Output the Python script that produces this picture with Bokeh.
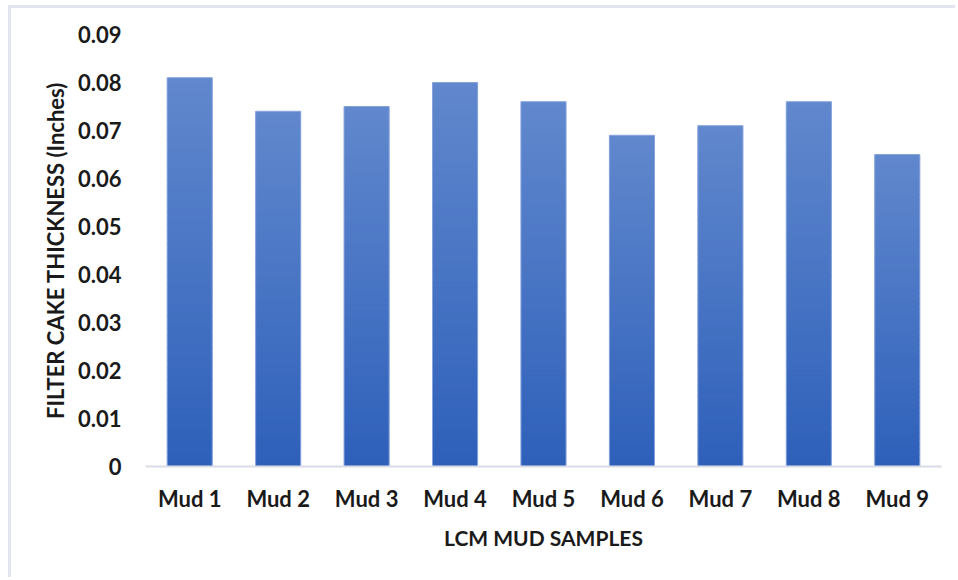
import numpy as np
from bokeh.plotting import figure
from bokeh.models import ColumnDataSource, FixedTicker, CustomJSTickFormatter
from bokeh.embed import file_html
from bokeh.resources import INLINE

categories = ["Mud 1", "Mud 2", "Mud 3", "Mud 4", "Mud 5", "Mud 6", "Mud 7", "Mud 8", "Mud 9"]
thickness = [0.081, 0.074, 0.075, 0.080, 0.076, 0.069, 0.071, 0.076, 0.065]
y_ticks = [0, 0.01, 0.02, 0.03, 0.04, 0.05, 0.06, 0.07, 0.08, 0.09]

FONT = "Lato"
TXT = "#1a1a1a"

p = figure(x_range=categories, y_range=(0, 0.09), width=947, height=572,
           output_backend="svg", toolbar_location=None,
           min_border_left=134, min_border_right=17, min_border_top=26, min_border_bottom=114)
p.margin = (5, 0, 0, 8)
p.styles = {"border-top": "3px solid #e2e5ee", "border-left": "3px solid #e2e5ee"}
p.outline_line_color = None
p.xgrid.grid_line_color = None
p.ygrid.grid_line_color = None

# gradient bars: each bar split into thin slices, light at top, dark at bottom
top_c = np.array([0x61, 0x88, 0xcd])
bot_c = np.array([0x2e, 0x60, 0xba])
N = 60
xs, bots, tops, cols = [], [], [], []
for c, v in zip(categories, thickness):
    for i in range(N):
        f0, f1 = i / N, (i + 1) / N
        col = bot_c + (top_c - bot_c) * (f0 + f1) / 2
        xs.append(c)
        bots.append(v * f0)
        tops.append(v * min(1.0, f1 + 0.6 / N) if i < N - 1 else v)
        cols.append("#%02x%02x%02x" % tuple(int(round(k)) for k in col))
src = ColumnDataSource(dict(x=xs, bottom=bots, top=tops, color=cols))
p.vbar(x="x", bottom="bottom", top="top", width=0.51, source=src,
       fill_color="color", line_color=None)
p.vbar(x=categories, top=thickness, width=0.51, fill_color=None,
       line_color="#86a3dc", line_width=1)

p.yaxis.ticker = FixedTicker(ticks=y_ticks)
p.yaxis.formatter = CustomJSTickFormatter(code="return tick == 0 ? '0' : tick.toFixed(2);")
for ax in (p.xaxis, p.yaxis):
    ax.major_tick_line_color = None
    ax.minor_tick_line_color = None
    ax.major_label_text_font = FONT
    ax.major_label_text_font_style = "bold"
    ax.major_label_text_font_size = "22px"
    ax.major_label_text_color = TXT
    ax.axis_label_text_font = FONT
    ax.axis_label_text_font_style = "bold"
    ax.axis_label_text_color = TXT
p.xaxis.axis_label_text_font_size = "21px"
p.yaxis.axis_label_text_font_size = "22px"
p.yaxis.axis_line_color = None
p.xaxis.axis_line_color = "#d9dce6"
p.xaxis.axis_line_width = 2
p.xaxis.major_label_standoff = 12
p.yaxis.major_label_standoff = 18
p.xaxis.axis_label = "LCM MUD SAMPLES"
p.yaxis.axis_label = "FILTER CAKE THICKNESS (Inches)"
p.xaxis.axis_label_standoff = 10
p.yaxis.axis_label_standoff = 6

open("out.html", "w").write(file_html(p, INLINE))
